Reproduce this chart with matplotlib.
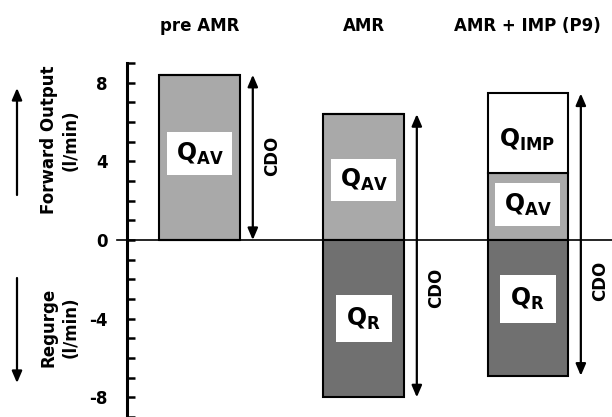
import numpy as np
import matplotlib
matplotlib.use("Agg")
import matplotlib.pyplot as plt
from matplotlib.patches import FancyArrowPatch

plt.rcParams['font.family'] = 'DejaVu Sans'
plt.rcParams['font.weight'] = 'bold'
plt.rcParams['mathtext.fontset'] = 'dejavusans'
plt.rcParams['mathtext.default'] = 'bf'
plt.rcParams['axes.unicode_minus'] = False

# values (l/min)
categories = ['pre AMR', 'AMR', 'AMR + IMP (P9)']
q_av = np.array([8.4, 6.4, 3.4])
q_imp = np.array([0.0, 0.0, 4.05])
q_r = np.array([0.0, -8.0, -6.9])

# where the labels sit inside the bars
av_label_y = [4.4, 3.05, 1.8]
r_label_y = [None, -4.0, -3.0]
imp_label_y = [None, None, 5.1]
cdo_label_y = [4.3, -2.45, -2.1]

light = '#a9a9a9'
dark = '#707070'

fig = plt.figure(figsize=(6.12, 4.17), dpi=100)
ax = fig.add_axes([127 / 612, 0, 485 / 612, 354 / 417])

x = np.arange(len(categories))
w = 0.488

ax.bar(x, q_av, w, color=light, edgecolor='black', linewidth=1.5, zorder=2)
ax.bar(x, q_imp, w, bottom=q_av, color='white', edgecolor='black', linewidth=1.5, zorder=2)
ax.bar(x, q_r, w, color=dark, edgecolor='black', linewidth=1.5, zorder=2)

box = dict(boxstyle='square,pad=0.35', facecolor='white', edgecolor='none')
for i in range(len(categories)):
    ax.text(x[i], av_label_y[i], r'$Q_{AV}$', ha='center', va='center', fontsize=17,
            bbox=box, zorder=4)
    if q_r[i] < 0:
        ax.text(x[i], r_label_y[i], r'$Q_{R}$', ha='center', va='center', fontsize=17,
                bbox=dict(boxstyle='square,pad=0.45', facecolor='white', edgecolor='none'),
                zorder=4)
    if q_imp[i] > 0:
        ax.text(x[i], imp_label_y[i], r'$Q_{IMP}$', ha='center', va='center', fontsize=17,
                zorder=4)
    top = q_av[i] + q_imp[i]
    bot = q_r[i]
    ax.annotate('', xy=(x[i] + 0.325, top), xytext=(x[i] + 0.325, bot),
                arrowprops=dict(arrowstyle='<|-|>,head_length=0.7,head_width=0.3',
                                lw=1.6, color='black', shrinkA=0, shrinkB=0))
    ax.text(x[i] + 0.44, cdo_label_y[i], 'CDO', rotation=90, ha='center', va='center',
            fontsize=12)
    ax.text(x[i], 10.87, categories[i], ha='center', va='center', fontsize=12,
            clip_on=False)

# zero line
ax.plot([-0.02, 1], [0, 0], transform=ax.get_yaxis_transform(), color='black',
        lw=1.2, clip_on=False, zorder=3)

ax.set_xlim(-0.442, 2.515)
ax.set_ylim(-9, 9)
for s in ['top', 'right', 'bottom']:
    ax.spines[s].set_visible(False)
ax.spines['left'].set_linewidth(2.2)
ax.set_xticks([])
ax.set_yticks([-8, -4, 0, 4, 8])
ax.set_yticks(np.arange(-9, 10), minor=True)
ax.tick_params(axis='y', which='both', direction='in', length=6, width=1.8, pad=14,
               labelsize=12)

# side labels
fig.text(60 / 612, 1 - 140 / 417, 'Forward Output\n(l/min)', rotation=90,
         ha='center', va='center', fontsize=12, linespacing=1.3)
fig.text(60 / 612, 1 - 327 / 417, 'Regurge\n(l/min)', rotation=90,
         ha='center', va='center', fontsize=12, linespacing=1.3)
arr = dict(arrowstyle='-|>,head_length=0.7,head_width=0.3', lw=1.6, color='black',
           shrinkA=0, shrinkB=0, mutation_scale=10)
fig.add_artist(FancyArrowPatch((17 / 612, 1 - 195 / 417), (17 / 612, 1 - 88 / 417),
                               transform=fig.transFigure, **arr))
fig.add_artist(FancyArrowPatch((17 / 612, 1 - 278 / 417), (17 / 612, 1 - 383 / 417),
                               transform=fig.transFigure, **arr))

fig.savefig('out.png', dpi=100)
